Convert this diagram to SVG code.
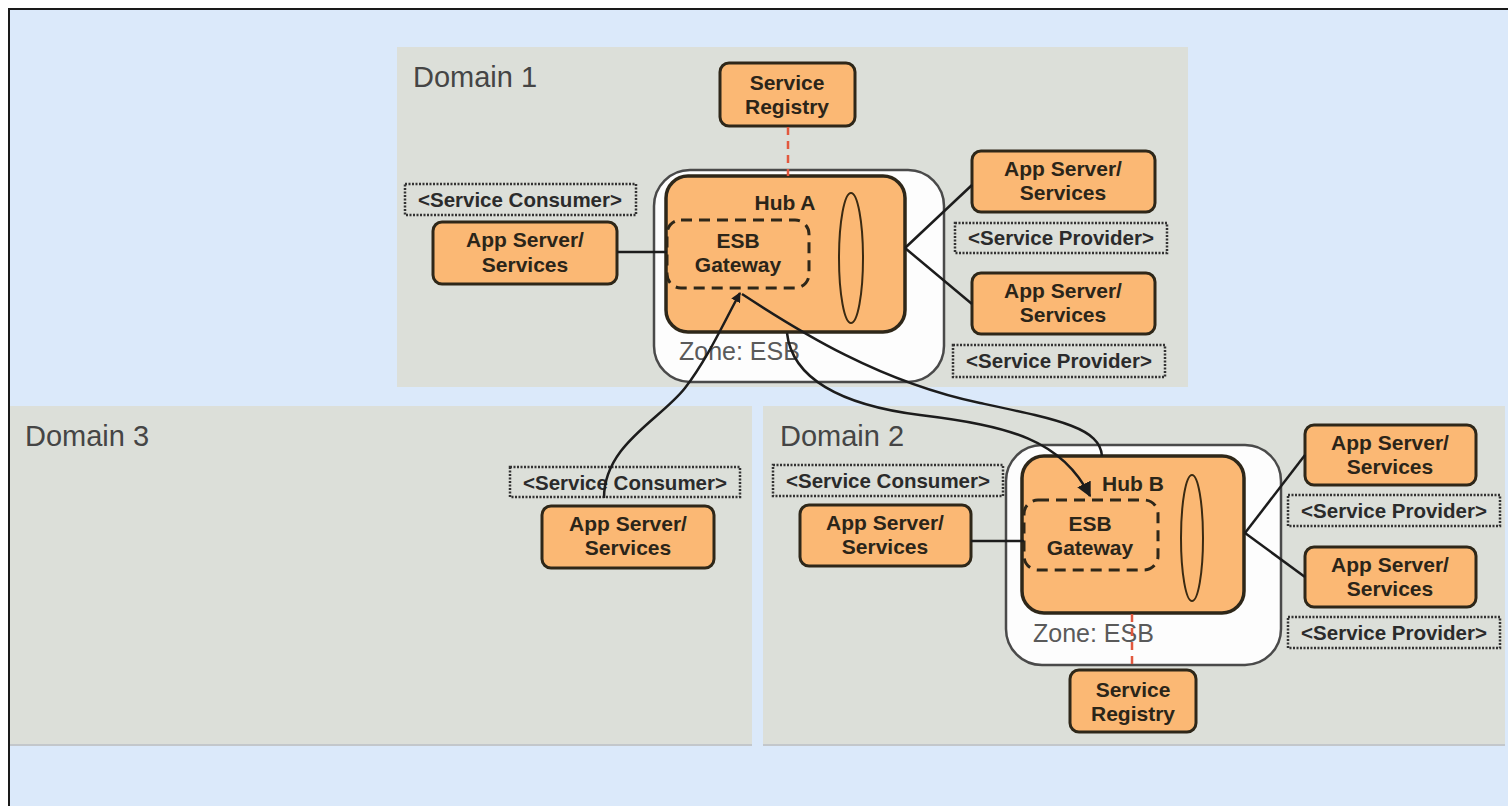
<svg xmlns="http://www.w3.org/2000/svg" width="1508" height="806" viewBox="0 0 1508 806">
  <style>
    .domain { fill: #dcdfd9; }
    .domain-edge { stroke: #c3c7cb; stroke-width: 2; }
    .dtitle { font-family: "Liberation Sans", Arial, sans-serif; font-size: 29px; fill: #454545; }
    .zone { fill: #fdfdfd; stroke: #4a4a4a; stroke-width: 2.5; }
    .ztitle { font-family: "Liberation Sans", Arial, sans-serif; font-size: 25px; fill: #5a5a5a; }
    .box { fill: #fbb874; stroke: #2e2719; stroke-width: 3; }
    .hub { fill: #fbb874; stroke: #2e2719; stroke-width: 3.5; }
    .gw { fill: none; stroke: #2e2719; stroke-width: 3; stroke-dasharray: 11 7; }
    .bus { fill: none; stroke: #3a2a12; stroke-width: 2; }
    .tag { fill: none; stroke: #333333; stroke-width: 2.5; stroke-dasharray: 2 1.5; }
    .lbl { font-family: "Liberation Sans", Arial, sans-serif; font-size: 21px; font-weight: bold; fill: #2b2519; text-anchor: middle; }
    .taglbl { font-family: "Liberation Sans", Arial, sans-serif; font-size: 20.5px; font-weight: bold; fill: #2b2b2b; text-anchor: middle; }
    .link { fill: none; stroke: #1c1c1c; stroke-width: 2.5; }
    .reg { fill: none; stroke: #e2583e; stroke-width: 2.5; stroke-dasharray: 8 6; }
  </style>
  <defs>
    <marker id="arrowSmall" viewBox="0 0 10 10" refX="9" refY="5" markerWidth="4" markerHeight="4" orient="auto" markerUnits="strokeWidth">
      <path d="M0,0 L10,5 L0,10 z" fill="#1c1c1c"/>
    </marker>
    <marker id="arrowLarge" viewBox="0 0 10 10" refX="9" refY="5" markerWidth="6" markerHeight="6" orient="auto" markerUnits="strokeWidth">
      <path d="M0,0 L10,5 L0,10 z" fill="#1c1c1c"/>
    </marker>
  </defs>

  <!-- page and frame -->
  <rect x="0" y="0" width="1508" height="806" fill="#ffffff"/>
  <rect x="9" y="9" width="1510" height="810" fill="#dbe9fa" stroke="#1a1a1a" stroke-width="2"/>

  <!-- domains -->
  <g id="domain1">
    <rect class="domain" x="397" y="47" width="791" height="340"/>
    <text class="dtitle" x="413" y="87">Domain 1</text>
  </g>
  <g id="domain3">
    <rect class="domain" x="10" y="406" width="742" height="339"/>
    <line class="domain-edge" x1="10" y1="745" x2="752" y2="745"/>
    <text class="dtitle" x="25" y="446">Domain 3</text>
  </g>
  <g id="domain2">
    <rect class="domain" x="763" y="406" width="742" height="339"/>
    <line class="domain-edge" x1="763" y1="745" x2="1505" y2="745"/>
    <text class="dtitle" x="780" y="446">Domain 2</text>
  </g>

  <!-- Domain 1 -->
  <g id="registryA">
    <rect class="box" x="720" y="63" width="135" height="63" rx="9"/>
    <text class="lbl" x="787" y="90">Service</text>
    <text class="lbl" x="787" y="114">Registry</text>
  </g>
  <g id="zoneA">
    <rect class="zone" x="654" y="170" width="290" height="212" rx="36"/>
    <text class="ztitle" x="679" y="360">Zone: ESB</text>
  </g>
  <g id="hubA">
    <rect class="hub" x="666" y="176" width="239" height="156" rx="22"/>
    <text class="lbl" x="785" y="210">Hub A</text>
    <ellipse class="bus" cx="851" cy="258" rx="12" ry="65"/>
  </g>
  <g id="gatewayA">
    <rect class="gw" x="667" y="220" width="142" height="68" rx="14"/>
    <text class="lbl" x="738" y="248">ESB</text>
    <text class="lbl" x="738" y="272">Gateway</text>
  </g>
  <g id="consumerTagA">
    <rect class="tag" x="405" y="184" width="231" height="31"/>
    <text class="taglbl" x="520" y="207">&lt;Service Consumer&gt;</text>
  </g>
  <g id="consumerA">
    <rect class="box" x="433" y="222" width="184" height="62" rx="9"/>
    <text class="lbl" x="525" y="247">App Server/</text>
    <text class="lbl" x="525" y="272">Services</text>
  </g>
  <g id="providerA1">
    <rect class="box" x="972" y="151" width="183" height="61" rx="9"/>
    <text class="lbl" x="1063" y="176">App Server/</text>
    <text class="lbl" x="1063" y="200">Services</text>
  </g>
  <g id="providerTagA1">
    <rect class="tag" x="955" y="223" width="212" height="30"/>
    <text class="taglbl" x="1061" y="245">&lt;Service Provider&gt;</text>
  </g>
  <g id="providerA2">
    <rect class="box" x="972" y="273" width="183" height="61" rx="9"/>
    <text class="lbl" x="1063" y="298">App Server/</text>
    <text class="lbl" x="1063" y="322">Services</text>
  </g>
  <g id="providerTagA2">
    <rect class="tag" x="953" y="345" width="212" height="32"/>
    <text class="taglbl" x="1059" y="368">&lt;Service Provider&gt;</text>
  </g>

  <!-- Domain 3 -->
  <g id="consumerTag3">
    <rect class="tag" x="510" y="467" width="230" height="30"/>
    <text class="taglbl" x="625" y="490">&lt;Service Consumer&gt;</text>
  </g>
  <g id="consumer3">
    <rect class="box" x="542" y="506" width="172" height="62" rx="9"/>
    <text class="lbl" x="628" y="531">App Server/</text>
    <text class="lbl" x="628" y="555">Services</text>
  </g>

  <!-- Domain 2 -->
  <g id="consumerTagB">
    <rect class="tag" x="773" y="465" width="230" height="31"/>
    <text class="taglbl" x="888" y="488">&lt;Service Consumer&gt;</text>
  </g>
  <g id="consumerB">
    <rect class="box" x="800" y="505" width="171" height="61" rx="9"/>
    <text class="lbl" x="885" y="530">App Server/</text>
    <text class="lbl" x="885" y="554">Services</text>
  </g>
  <g id="zoneB">
    <rect class="zone" x="1006" y="445" width="275" height="220" rx="36"/>
    <text class="ztitle" x="1033" y="642">Zone: ESB</text>
  </g>
  <g id="hubB">
    <rect class="hub" x="1022" y="456" width="222" height="157" rx="22"/>
    <text class="lbl" x="1133" y="491">Hub B</text>
    <ellipse class="bus" cx="1192" cy="538" rx="11" ry="63"/>
  </g>
  <g id="gatewayB">
    <rect class="gw" x="1024" y="500" width="134" height="70" rx="14"/>
    <text class="lbl" x="1090" y="531">ESB</text>
    <text class="lbl" x="1090" y="555">Gateway</text>
  </g>
  <g id="registryB">
    <rect class="box" x="1070" y="670" width="126" height="62" rx="9"/>
    <text class="lbl" x="1133" y="697">Service</text>
    <text class="lbl" x="1133" y="721">Registry</text>
  </g>
  <g id="providerB1">
    <rect class="box" x="1305" y="425" width="171" height="60" rx="9"/>
    <text class="lbl" x="1390" y="450">App Server/</text>
    <text class="lbl" x="1390" y="474">Services</text>
  </g>
  <g id="providerTagB1">
    <rect class="tag" x="1288" y="495" width="212" height="31"/>
    <text class="taglbl" x="1394" y="518">&lt;Service Provider&gt;</text>
  </g>
  <g id="providerB2">
    <rect class="box" x="1305" y="547" width="171" height="60" rx="9"/>
    <text class="lbl" x="1390" y="572">App Server/</text>
    <text class="lbl" x="1390" y="596">Services</text>
  </g>
  <g id="providerTagB2">
    <rect class="tag" x="1288" y="617" width="212" height="31"/>
    <text class="taglbl" x="1394" y="640">&lt;Service Provider&gt;</text>
  </g>

  <!-- connectors -->
  <g id="connectors">
    <line class="reg" x1="788" y1="127" x2="788" y2="176"/>
    <line class="reg" x1="1132" y1="614" x2="1132" y2="670"/>
    <line class="link" x1="617" y1="252" x2="667" y2="252"/>
    <line class="link" x1="905" y1="248" x2="972" y2="185"/>
    <line class="link" x1="905" y1="248" x2="972" y2="304"/>
    <line class="link" x1="971" y1="541" x2="1024" y2="541"/>
    <line class="link" x1="1245" y1="533" x2="1305" y2="455"/>
    <line class="link" x1="1245" y1="533" x2="1305" y2="577"/>
    <!-- Domain 3 consumer to gateway A -->
    <path class="link" d="M604,498 C604,445 660,420 685,388 C708,358 724,322 740,293" marker-end="url(#arrowSmall)"/>
    <!-- gateway A to hub B -->
    <path class="link" d="M742,294 C800,332 880,382 980,403 C1060,420 1100,428 1102,456"/>
    <!-- hub A to gateway B -->
    <path class="link" d="M787,333 C792,378 840,405 920,415 C1010,426 1062,440 1090,496" marker-end="url(#arrowLarge)"/>
  </g>
</svg>
